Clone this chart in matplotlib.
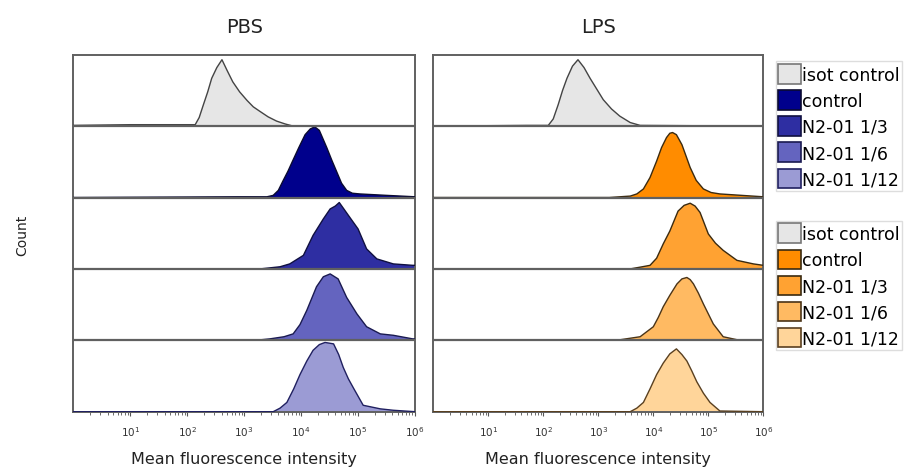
import numpy as np
import matplotlib
matplotlib.use('Agg')
import matplotlib.pyplot as plt
from matplotlib.patches import Patch
from matplotlib.ticker import LogLocator, FixedLocator

# sample names, top row first
labels = ['isot control', 'control', 'N2-01 1/3', 'N2-01 1/6', 'N2-01 1/12']

# histograms: log10(intensity), relative count (row height = 1)
pbs_isot_x = [0.0, 1.0, 1.8, 2.14, 2.21, 2.28, 2.36, 2.43, 2.52, 2.61, 2.70, 2.80, 2.92, 3.05, 3.16,
              3.27, 3.42, 3.57, 3.72, 3.86, 6.0]
pbs_isot_y = [0.01, 0.02, 0.02, 0.02, 0.12, 0.29, 0.48, 0.67, 0.82, 0.93, 0.78, 0.62, 0.48, 0.36, 0.27,
              0.21, 0.13, 0.07, 0.03, 0.0, 0.0]
pbs_ctrl_x = [0.0, 2.9, 3.4, 3.51, 3.60, 3.68, 3.77, 3.85, 3.96, 4.07, 4.16, 4.24, 4.32, 4.45, 4.54,
              4.62, 4.71, 4.80, 4.90, 5.03, 5.5, 6.0]
pbs_ctrl_y = [0.0, 0.01, 0.01, 0.03, 0.10, 0.23, 0.37, 0.51, 0.70, 0.88, 0.96, 0.99, 0.94, 0.70, 0.52,
              0.37, 0.20, 0.10, 0.06, 0.05, 0.03, 0.01]
pbs_13_x = [0.0, 3.28, 3.63, 3.80, 4.04, 4.21, 4.39, 4.51, 4.60, 4.67, 4.75, 4.83, 5.00, 5.15, 5.33,
            5.62, 5.96, 6.0]
pbs_13_y = [0.0, 0.0, 0.03, 0.07, 0.19, 0.47, 0.70, 0.84, 0.88, 0.93, 0.84, 0.75, 0.56, 0.28, 0.14,
            0.07, 0.05, 0.05]
pbs_16_x = [0.0, 3.2, 3.45, 3.70, 3.86, 3.98, 4.10, 4.27, 4.39, 4.51, 4.65, 4.80, 4.98, 5.15, 5.39,
            5.62, 5.96, 6.0]
pbs_16_y = [0.0, 0.0, 0.02, 0.05, 0.09, 0.22, 0.42, 0.75, 0.89, 0.93, 0.86, 0.60, 0.37, 0.19, 0.09,
            0.07, 0.02, 0.02]
pbs_112_x = [0.0, 3.51, 3.63, 3.75, 3.87, 3.98, 4.10, 4.21, 4.32, 4.42, 4.57, 4.66, 4.74, 4.83, 4.92,
             5.09, 5.39, 5.62, 6.0]
pbs_112_y = [0.0, 0.0, 0.05, 0.13, 0.32, 0.52, 0.71, 0.86, 0.94, 0.97, 0.95, 0.80, 0.62, 0.46, 0.33,
             0.09, 0.04, 0.02, 0.0]

lps_isot_x = [0.0, 1.7, 2.09, 2.18, 2.27, 2.35, 2.43, 2.53, 2.63, 2.74, 2.85, 2.97, 3.09, 3.24, 3.39,
              3.58, 3.76, 6.0]
lps_isot_y = [0.0, 0.01, 0.01, 0.10, 0.30, 0.50, 0.67, 0.84, 0.93, 0.82, 0.67, 0.52, 0.37, 0.24, 0.14,
              0.05, 0.01, 0.0]
lps_ctrl_x = [0.0, 3.2, 3.58, 3.70, 3.82, 3.94, 4.06, 4.15, 4.24, 4.30, 4.35, 4.42, 4.52, 4.60, 4.67,
              4.78, 4.91, 5.05, 5.21, 6.0]
lps_ctrl_y = [0.0, 0.0, 0.02, 0.05, 0.12, 0.28, 0.51, 0.70, 0.84, 0.90, 0.91, 0.88, 0.74, 0.57, 0.42,
              0.24, 0.12, 0.07, 0.05, 0.01]
lps_13_x = [0.0, 3.58, 3.80, 3.94, 4.06, 4.18, 4.30, 4.45, 4.56, 4.67, 4.76, 4.85, 5.00, 5.13, 5.27,
            5.52, 5.82, 6.0]
lps_13_y = [0.0, 0.0, 0.03, 0.05, 0.15, 0.35, 0.53, 0.81, 0.89, 0.92, 0.88, 0.79, 0.49, 0.36, 0.26,
            0.12, 0.07, 0.05]
lps_16_x = [0.0, 3.33, 3.76, 4.00, 4.09, 4.18, 4.30, 4.43, 4.52, 4.61, 4.67, 4.73, 4.82, 4.91, 5.09,
            5.27, 5.57, 6.0]
lps_16_y = [0.0, 0.0, 0.05, 0.19, 0.32, 0.47, 0.63, 0.79, 0.86, 0.88, 0.85, 0.79, 0.66, 0.51, 0.23,
            0.05, 0.0, 0.0]
lps_112_x = [0.0, 3.58, 3.70, 3.82, 3.94, 4.06, 4.18, 4.30, 4.42, 4.52, 4.61, 4.70, 4.79, 4.91, 5.03,
             5.21, 6.0]
lps_112_y = [0.0, 0.0, 0.05, 0.13, 0.32, 0.52, 0.68, 0.81, 0.88, 0.80, 0.71, 0.57, 0.42, 0.26, 0.13,
             0.01, 0.0]

pbs_x = [pbs_isot_x, pbs_ctrl_x, pbs_13_x, pbs_16_x, pbs_112_x]
pbs_y = [pbs_isot_y, pbs_ctrl_y, pbs_13_y, pbs_16_y, pbs_112_y]
lps_x = [lps_isot_x, lps_ctrl_x, lps_13_x, lps_16_x, lps_112_x]
lps_y = [lps_isot_y, lps_ctrl_y, lps_13_y, lps_16_y, lps_112_y]

pbs_fill = ['#e6e6e6', '#00008c', '#2e2ea2', '#6464bf', '#9b9bd4']
pbs_edge = ['#444444', '#0a0a30', '#101040', '#1a1a50', '#202060']
lps_fill = ['#e6e6e6', '#ff8c00', '#ffa232', '#ffba62', '#ffd59a']
lps_edge = ['#444444', '#3a2a10', '#3a2a10', '#4a3418', '#5a4020']

xticks = [1e1, 1e2, 1e3, 1e4, 1e5, 1e6]
xticklabels = ['$10^1$', '$10^2$', '$10^3$', '$10^4$', '$10^5$', '$10^6$']

fig = plt.figure(figsize=(9.2, 4.77), dpi=100)
ax1 = fig.add_axes([0.0797, 0.1348, 0.3714, 0.7484])
ax2 = fig.add_axes([0.4710, 0.1348, 0.3587, 0.7484])


def draw_panel(ax, xs, ys, fills, edges, title):
    nrow = len(xs)
    for i in range(nrow):
        base = nrow - 1 - i
        x = 10 ** np.array(xs[i])
        y = np.array(ys[i]) + base
        ax.fill_between(x, base, y, facecolor=fills[i], linewidth=0, zorder=2)
        ax.plot(x, y, color=edges[i], linewidth=1.0, zorder=3)
        if base > 0:
            ax.axhline(base, color='#606060', linewidth=1.6, zorder=4)
    ax.set_xscale('log')
    ax.set_xlim(1, 1e6)
    ax.set_ylim(0, nrow)
    ax.set_yticks([])
    ax.xaxis.set_major_locator(FixedLocator(xticks))
    ax.set_xticklabels(xticklabels, fontsize=7.5, color='#333333')
    ax.xaxis.set_minor_locator(LogLocator(base=10, subs=np.arange(2, 10), numticks=20))
    ax.tick_params(axis='x', which='major', direction='out', length=3, width=0.8, color='#555555', pad=6)
    ax.tick_params(axis='x', which='minor', direction='out', length=2, width=0.6, color='#555555')
    for s in ax.spines.values():
        s.set_color('#606060')
        s.set_linewidth(1.4)
    ax.set_xlabel('Mean fluorescence intensity', fontsize=11.5, color='#222222', labelpad=9)
    ax.set_title(title, fontsize=14, color='#222222', pad=16)


draw_panel(ax1, pbs_x, pbs_y, pbs_fill, pbs_edge, 'PBS')
draw_panel(ax2, lps_x, lps_y, lps_fill, lps_edge, 'LPS')

fig.text(0.024, 0.507, 'Count', rotation=90, fontsize=10, color='#222222', va='center', ha='center')

h1 = [Patch(facecolor=pbs_fill[i], edgecolor=pbs_edge[i] if i else '#777777', linewidth=1.2) for i in range(5)]
h2 = [Patch(facecolor=lps_fill[i], edgecolor=lps_edge[i] if i else '#777777', linewidth=1.2) for i in range(5)]
leg_kw = dict(fontsize=12.5, handlelength=1.3, handleheight=1.35, handletextpad=0.08,
              labelspacing=0.38, borderpad=0.15, borderaxespad=0, fancybox=False,
              edgecolor='#dddddd', framealpha=1)
leg1 = fig.legend(h1, labels, loc='upper left', bbox_to_anchor=(0.843, 0.869), **leg_kw)
leg2 = fig.legend(h2, labels, loc='upper left', bbox_to_anchor=(0.843, 0.535), **leg_kw)

plt.savefig('out.png', dpi=100)
plt.close()
